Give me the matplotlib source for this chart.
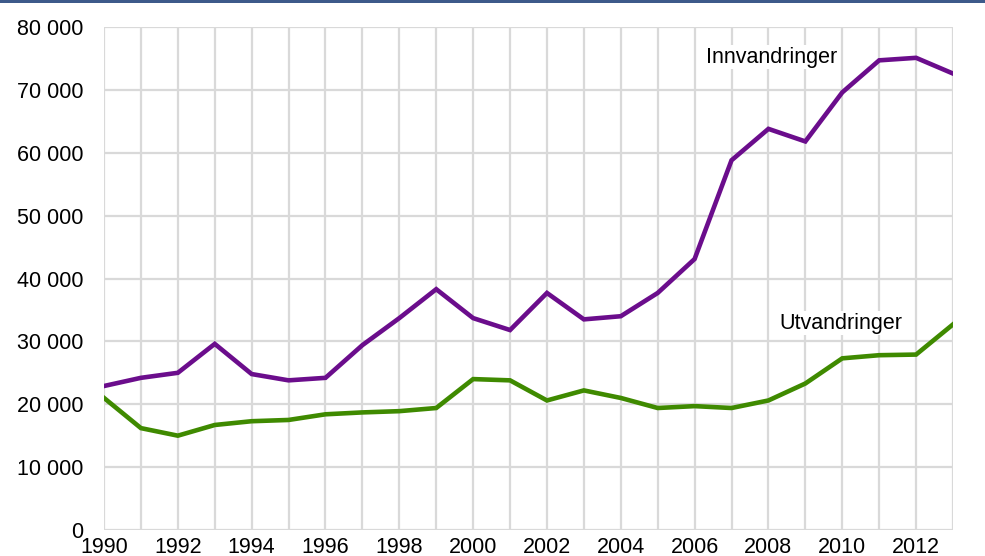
import matplotlib.pyplot as plt
from matplotlib.patches import Rectangle

plt.rcParams["font.family"] = ["Liberation Sans", "DejaVu Sans"]

years = list(range(1990, 2014))
innvandringer = [22900, 24200, 25000, 29600, 24800, 23800, 24200, 29400,
                 33700, 38300, 33700, 31800, 37700, 33500, 34000, 37700,
                 43100, 58800, 63800, 61800, 69600, 74700, 75100, 72600]
utvandringer = [21000, 16200, 15000, 16700, 17300, 17500, 18400, 18700,
                18900, 19400, 24000, 23800, 20600, 22200, 21000, 19400,
                19700, 19400, 20600, 23300, 27300, 27800, 27900, 32700]
y_ticks = list(range(0, 80001, 10000))
x_ticks = list(range(1990, 2013, 2))

fig = plt.figure(figsize=(9.85, 5.56), dpi=100)
ax = fig.add_axes([0.1056, 0.0468, 0.9675 - 0.1056, 0.9514 - 0.0468])

# dark blue rule across the top of the figure
fig.add_artist(Rectangle((0, 0.995), 1, 0.005, transform=fig.transFigure,
                         color="#3d5a8a", lw=0))

ax.plot(years, innvandringer, color="#6b0d8c", lw=3.3, solid_joinstyle="miter", zorder=3)
ax.plot(years, utvandringer, color="#3f8a00", lw=3.3, solid_joinstyle="miter", zorder=3)

ax.set_xlim(1990, 2013)
ax.set_ylim(0, 80000)
ax.set_xticks(years, minor=True)
ax.set_xticks(x_ticks)
ax.set_yticks(y_ticks)
ax.set_yticklabels([f"{v:,}".replace(",", " ") for v in y_ticks])
ax.tick_params(axis="both", which="both", length=0, labelsize=15.5)
ax.tick_params(axis="x", pad=5)
ax.tick_params(axis="y", pad=15)

ax.grid(True, which="both", axis="x", color="#d9d9d9", lw=1.6)
ax.grid(True, which="major", axis="y", color="#d9d9d9", lw=1.6)
ax.set_axisbelow(True)
for s in ax.spines.values():
    s.set_visible(False)

box = dict(facecolor="white", edgecolor="none", pad=1)
ax.text(2008.1, 75200, "Innvandringer", fontsize=15.5, ha="center", va="center",
        bbox=box, zorder=4)
ax.text(2009.95, 32900, "Utvandringer", fontsize=15.5, ha="center", va="center",
        bbox=box, zorder=4)

fig.savefig("out.png", dpi=100)
